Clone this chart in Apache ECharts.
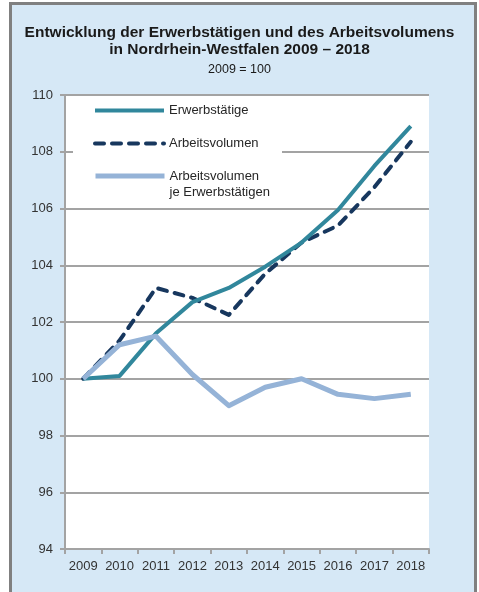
<!DOCTYPE html>
<html>
<head>
<meta charset="utf-8">
<script src="https://cdn.jsdelivr.net/npm/echarts@6/dist/echarts.min.js"></script>
<style>
  html, body { margin: 0; padding: 0; background: #fff; }
  .frame {
    position: absolute; left: 9px; top: 2px; width: 468px; height: 600px;
    box-sizing: border-box; border: 3px solid #808080; border-bottom: none;
    background: #d6e8f6;
  }
  #chart { position: absolute; left: 0; top: 0; width: 479px; height: 592px; }
</style>
</head>
<body>
<div class="frame"></div>
<div id="chart"></div>
<script>
// Daten (2009 = 100)
const years = ['2009', '2010', '2011', '2012', '2013', '2014', '2015', '2016', '2017', '2018']
const erwerbstaetige = [100, 100.1, 101.6, 102.7, 103.2, 103.95, 104.8, 105.95, 107.5, 108.9]
const arbeitsvolumen = [100, 101.35, 103.2, 102.85, 102.25, 103.7, 104.8, 105.4, 106.75, 108.35]
const jeErwerbstaetigen = [100, 101.2, 101.5, 100.15, 99.05, 99.7, 100.0, 99.45, 99.3, 99.45]
const yMin = 94
const yMax = 110
const yStep = 2

const font = "'Liberation Sans', Arial, sans-serif"
const gridColor = '#a3a3a3'
const legendText = { fontFamily: font, fontSize: 13, color: '#262626' }

const chart = echarts.init(document.getElementById('chart'))

const option = {
  backgroundColor: 'transparent',
  textStyle: { fontFamily: font },
  title: {
    text: 'Entwicklung der Erwerbstätigen und des Arbeitsvolumens\nin Nordrhein-Westfalen 2009 – 2018',
    subtext: '2009 = 100',
    left: 'center',
    top: 24,
    padding: 0,
    itemGap: 4,
    textStyle: { fontFamily: font, fontSize: 15.5, fontWeight: 'bold', color: '#1a1a1a', lineHeight: 17 },
    subtextStyle: { fontFamily: font, fontSize: 12.5, color: '#1a1a1a', lineHeight: 15 }
  },
  graphic: [
    // weisser Hintergrund der Legende
    { type: 'rect', left: 73, top: 97, z: 1, shape: { width: 209, height: 104 }, style: { fill: '#fff' } }
  ],
  legend: [
    {
      data: ['Erwerbstätige'], left: 93, top: 104, padding: 0,
      itemWidth: 69, itemHeight: 14,
      itemStyle: { opacity: 0 },
      lineStyle: { width: 4 },
      textStyle: legendText
    },
    {
      data: ['Arbeitsvolumen'], left: 93, top: 137, padding: 0,
      itemWidth: 69, itemHeight: 14,
      itemStyle: { opacity: 0 },
      lineStyle: { width: 4, cap: 'round' },
      textStyle: legendText
    },
    {
      data: ['Arbeitsvolumen je Erwerbstätigen'], left: 93, top: 152, padding: 0,
      itemWidth: 69, itemHeight: 14,
      itemStyle: { opacity: 0 },
      lineStyle: { width: 5 },
      formatter: () => ' \nArbeitsvolumen\nje Erwerbstätigen',
      textStyle: Object.assign({ lineHeight: 16 }, legendText)
    }
  ],
  grid: {
    left: 65, right: 50, top: 95, bottom: 43,
    show: true, backgroundColor: '#fff', borderWidth: 0
  },
  xAxis: {
    type: 'category',
    data: years,
    boundaryGap: true,
    axisLine: { lineStyle: { color: gridColor, width: 2 } },
    axisTick: { show: true, length: 5, lineStyle: { color: gridColor, width: 2 } },
    axisLabel: { interval: 0, margin: 11, fontSize: 13, color: '#333', fontFamily: font }
  },
  yAxis: {
    type: 'value',
    min: yMin,
    max: yMax,
    interval: yStep,
    axisLine: { show: true, lineStyle: { color: gridColor, width: 2 } },
    axisTick: { show: true, length: 5, lineStyle: { color: gridColor, width: 2 } },
    axisLabel: { margin: 12, fontSize: 13, color: '#333', fontFamily: font },
    splitLine: { lineStyle: { color: gridColor, width: 2 } }
  },
  series: [
    {
      name: 'Erwerbstätige',
      type: 'line',
      data: erwerbstaetige,
      symbol: 'none',
      lineStyle: { color: '#31879c', width: 4, join: 'round' },
      itemStyle: { color: '#31879c' },
      z: 4
    },
    {
      name: 'Arbeitsvolumen',
      type: 'line',
      data: arbeitsvolumen,
      symbol: 'none',
      lineStyle: { color: '#17375e', width: 4, type: [9, 8], cap: 'round', join: 'round' },
      itemStyle: { color: '#17375e' },
      z: 3
    },
    {
      name: 'Arbeitsvolumen je Erwerbstätigen',
      type: 'line',
      data: jeErwerbstaetigen,
      symbol: 'none',
      lineStyle: { color: '#95b3d7', width: 5, join: 'round' },
      itemStyle: { color: '#95b3d7' },
      z: 5
    }
  ]
}

chart.setOption(option)
</script>
</body>
</html>
